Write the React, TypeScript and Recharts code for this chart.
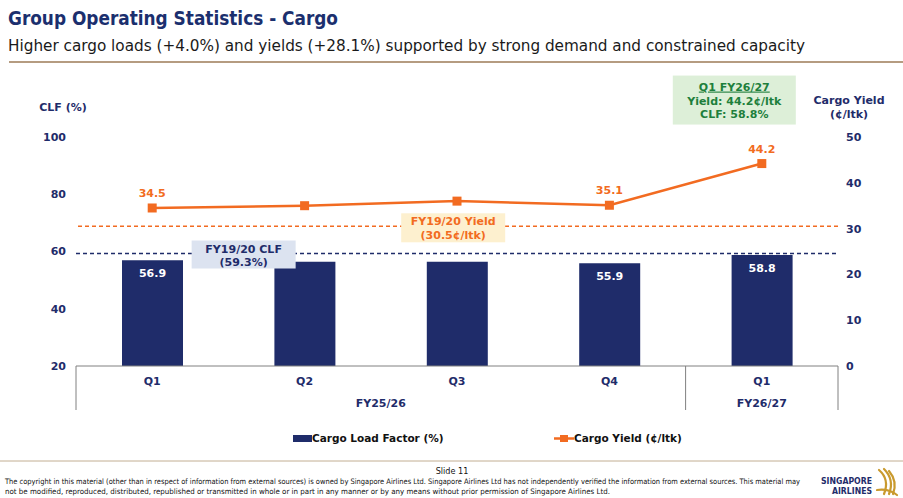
import React from 'react';
import {
  ComposedChart, Bar, Line, XAxis, YAxis, ReferenceLine, ReferenceDot, LabelList, Legend,
} from 'recharts';

// periods on the category axis (unique keys), with the two label rows
const periods = ['Q1 FY25/26', 'Q2 FY25/26', 'Q3 FY25/26', 'Q4 FY25/26', 'Q1 FY26/27'];
const quarters = ['Q1', 'Q2', 'Q3', 'Q4', 'Q1'];
const fiscalYears = ['FY25/26', 'FY25/26', 'FY25/26', 'FY25/26', 'FY26/27'];

// series
const cargoLoadFactor = [56.9, 56.4, 56.4, 55.9, 58.8];
const cargoYield = [34.5, 35.0, 36.0, 35.1, 44.2];
const clfLabels = ['56.9', '', '', '55.9', '58.8'];
const yieldLabels = ['34.5', '', '', '35.1', '44.2'];

// axes + benchmarks
const clfTicks = [20, 40, 60, 80, 100];
const yieldTicks = [0, 10, 20, 30, 40, 50];
const fy1920Clf = 59.3;
const fy1920Yield = 30.5;

const NAVY = '#1F2C6A';
const ORANGE = '#F26B21';
const GREEN = '#1E7F3C';
const FONT = '"DejaVu Sans", Verdana, sans-serif';

const W = 903;
const H = 498;
const PLOT_LEFT = 76;
const PLOT_RIGHT = 838;
const STEP = (PLOT_RIGHT - PLOT_LEFT) / periods.length;

const data = periods.map((p, i) => ({
  period: p,
  clf: cargoLoadFactor[i],
  yield: cargoYield[i],
}));

const CategoryTick = (props: any) => {
  const { x, y, index } = props;
  const fy = fiscalYears[index];
  const isGroupStart = index === 0 || fiscalYears[index - 1] !== fy;
  const isLast = index === periods.length - 1;
  let end = index;
  while (end + 1 < fiscalYears.length && fiscalYears[end + 1] === fy) end++;
  const groupCenter = x + ((end - index) * STEP) / 2;
  return (
    <g>
      <text x={x} y={y + 19} textAnchor="middle" fill={NAVY} fontSize={11} fontWeight="bold" fontFamily={FONT}>
        {quarters[index]}
      </text>
      {isGroupStart && (
        <>
          <line x1={x - STEP / 2} x2={x - STEP / 2} y1={y} y2={y + 44} stroke="#808080" />
          <text x={groupCenter} y={y + 41} textAnchor="middle" fill={NAVY} fontSize={11} fontWeight="bold" fontFamily={FONT}>
            {fy}
          </text>
        </>
      )}
      {isLast && <line x1={x + STEP / 2} x2={x + STEP / 2} y1={y} y2={y + 44} stroke="#808080" />}
    </g>
  );
};

const renderClfLabel = (props: any) => {
  const { x, y, width, index } = props;
  const txt = clfLabels[index];
  if (!txt) return null;
  return (
    <text x={x + width / 2} y={y + 17} textAnchor="middle" fill="#fff" fontSize={11} fontWeight="bold" fontFamily={FONT}>
      {txt}
    </text>
  );
};

const renderYieldLabel = (props: any) => {
  const { x, y, index } = props;
  const txt = yieldLabels[index];
  if (!txt) return null;
  return (
    <text x={x} y={y - 11} textAnchor="middle" fill={ORANGE} fontSize={11} fontWeight="bold" fontFamily={FONT}>
      {txt}
    </text>
  );
};

const SquareDot = (props: any) => {
  const { cx, cy } = props;
  if (cx == null || cy == null) return null;
  return <rect x={cx - 4.5} y={cy - 4.5} width={9} height={9} fill={ORANGE} />;
};

const renderClfBox = (props: any) => {
  const { viewBox } = props;
  const cx = viewBox.x + viewBox.width * 0.22;
  const top = viewBox.y - 13;
  return (
    <g>
      <rect x={cx - 52} y={top} width={104} height={28} fill="#DCE3F0" />
      <text x={cx} y={top + 12} textAnchor="middle" fill={NAVY} fontSize={11} fontWeight="bold" fontFamily={FONT}>FY19/20 CLF</text>
      <text x={cx} y={top + 25} textAnchor="middle" fill={NAVY} fontSize={11} fontWeight="bold" fontFamily={FONT}>(59.3%)</text>
    </g>
  );
};

const renderYieldBox = (props: any) => {
  const { viewBox } = props;
  const cx = viewBox.x + viewBox.width * 0.495;
  const top = viewBox.y - 13;
  return (
    <g>
      <rect x={cx - 52} y={top} width={104} height={29} fill="#FDF0CF" />
      <text x={cx} y={top + 12} textAnchor="middle" fill={ORANGE} fontSize={11} fontWeight="bold" fontFamily={FONT}>FY19/20 Yield</text>
      <text x={cx} y={top + 26} textAnchor="middle" fill={ORANGE} fontSize={11} fontWeight="bold" fontFamily={FONT}>(30.5¢/ltk)</text>
    </g>
  );
};

const renderQ1Box = (props: any) => {
  const { viewBox } = props;
  const cx = viewBox.x + viewBox.width / 2;
  const cy = viewBox.y + viewBox.height / 2;
  const left = cx - 89;
  const top = cy - 88;
  const mid = left + 61.5;
  return (
    <g>
      <rect x={left} y={top} width={123} height={49} fill="#DDEFD8" />
      <text x={mid} y={top + 15} textAnchor="middle" fill={GREEN} fontSize={11} fontWeight="bold" fontFamily={FONT} textDecoration="underline">Q1 FY26/27</text>
      <text x={mid} y={top + 29} textAnchor="middle" fill={GREEN} fontSize={11} fontWeight="bold" fontFamily={FONT}>Yield: 44.2¢/ltk</text>
      <text x={mid} y={top + 42} textAnchor="middle" fill={GREEN} fontSize={11} fontWeight="bold" fontFamily={FONT}>CLF: 58.8%</text>
    </g>
  );
};

const renderLegend = () => (
  <div style={{ position: 'relative', width: W, height: 20, fontFamily: FONT, fontSize: 10.5, fontWeight: 'bold', color: '#111' }}>
    <div style={{ position: 'absolute', left: 293, top: 4, display: 'flex', alignItems: 'center' }}>
      <span style={{ display: 'inline-block', width: 19, height: 7, background: NAVY }} />
      <span>Cargo Load Factor (%)</span>
    </div>
    <div style={{ position: 'absolute', left: 554, top: 4, display: 'flex', alignItems: 'center' }}>
      <svg width={20} height={9}>
        <line x1={0} x2={20} y1={4.5} y2={4.5} stroke={ORANGE} strokeWidth={2.5} />
        <rect x={6} y={1} width={8} height={7} fill={ORANGE} />
      </svg>
      <span>Cargo Yield (¢/ltk)</span>
    </div>
  </div>
);

const tickStyle = { fill: NAVY, fontSize: 11, fontWeight: 'bold', fontFamily: FONT };

const App = () => {
  return (
    <div style={{ position: 'absolute', left: 0, top: 0, width: W, height: H, background: '#fff', overflow: 'hidden' }}>
      <ComposedChart
        width={W}
        height={H}
        data={data}
        margin={{ top: 137, right: 0, left: 0, bottom: 82 }}
        style={{ position: 'absolute', left: 0, top: 0 }}
      >
        <XAxis
          dataKey="period"
          interval={0}
          tickLine={false}
          tickSize={0}
          tickMargin={0}
          height={50}
          axisLine={{ stroke: '#808080' }}
          tick={(p: any) => <CategoryTick {...p} />}
        />
        <YAxis
          yAxisId="left"
          width={76}
          domain={[20, 100]}
          ticks={clfTicks}
          axisLine={false}
          tickLine={false}
          tickSize={8}
          tickMargin={2}
          tick={tickStyle}
        />
        <YAxis
          yAxisId="right"
          orientation="right"
          width={65}
          domain={[0, 50]}
          ticks={yieldTicks}
          axisLine={false}
          tickLine={false}
          tickSize={6}
          tickMargin={2}
          tick={tickStyle}
        />
        <ReferenceLine yAxisId="right" y={fy1920Yield} stroke={ORANGE} strokeWidth={1.5} strokeDasharray="4 3" label={renderYieldBox} />
        <ReferenceLine yAxisId="left" y={fy1920Clf} stroke={NAVY} strokeWidth={1.5} strokeDasharray="4 3" label={renderClfBox} />
        <Bar yAxisId="left" dataKey="clf" fill={NAVY} barSize={61} isAnimationActive={false}>
          <LabelList dataKey="clf" content={renderClfLabel} />
        </Bar>
        <Line
          yAxisId="right"
          dataKey="yield"
          stroke={ORANGE}
          strokeWidth={2.5}
          dot={<SquareDot />}
          activeDot={false}
          isAnimationActive={false}
        >
          <LabelList dataKey="yield" content={renderYieldLabel} />
        </Line>
        <ReferenceDot yAxisId="right" x="Q1 FY26/27" y={44.2} r={0} fill="none" stroke="none" label={renderQ1Box} />
        <Legend
          layout="horizontal"
          verticalAlign="middle"
          align="center"
          content={renderLegend}
          wrapperStyle={{ top: 428, left: 0, width: W }}
        />
      </ComposedChart>

      <svg width={W} height={H} style={{ position: 'absolute', left: 0, top: 0, pointerEvents: 'none' }}>
        <text x={8} y={25} fontSize={20} fontWeight="bold" fill="#1B2F6E" fontFamily='"DejaVu Sans Condensed", "DejaVu Sans", sans-serif' textLength={330} lengthAdjust="spacingAndGlyphs">
          Group Operating Statistics - Cargo
        </text>
        <text x={8} y={51} fontSize={16} fill="#1a1a1a" fontFamily='"DejaVu Sans Condensed", "DejaVu Sans", sans-serif' textLength={797} lengthAdjust="spacingAndGlyphs">
          Higher cargo loads (+4.0%) and yields (+28.1%) supported by strong demand and constrained capacity
        </text>
        <line x1={9} x2={W} y1={62} y2={62} stroke="#9C7B57" strokeWidth={1.5} />

        <text x={63} y={111} textAnchor="middle" fontSize={11} fontWeight="bold" fill={NAVY} fontFamily={FONT}>CLF (%)</text>
        <text x={849} y={104} textAnchor="middle" fontSize={11} fontWeight="bold" fill={NAVY} fontFamily={FONT}>Cargo Yield</text>
        <text x={849} y={118} textAnchor="middle" fontSize={11} fontWeight="bold" fill={NAVY} fontFamily={FONT}>(¢/ltk)</text>

        <line x1={0} x2={W} y1={461} y2={461} stroke="#C2AE92" strokeWidth={1} />
        <text x={452} y={474} textAnchor="middle" fontSize={9} fill="#111" fontFamily='"DejaVu Sans Condensed", sans-serif'>Slide 11</text>
        <text x={5} y={484} fontSize={7.5} fill="#111" fontFamily='"DejaVu Sans Condensed", sans-serif' textLength={795} lengthAdjust="spacingAndGlyphs">
          The copyright in this material (other than in respect of information from external sources) is owned by Singapore Airlines Ltd. Singapore Airlines Ltd has not independently verified the information from external sources. This material may
        </text>
        <text x={5} y={494} fontSize={7.5} fill="#111" fontFamily='"DejaVu Sans Condensed", sans-serif' textLength={605} lengthAdjust="spacingAndGlyphs">
          not be modified, reproduced, distributed, republished or transmitted in whole or in part in any manner or by any means without prior permission of Singapore Airlines Ltd.
        </text>

        <text x={821} y={484} fontSize={8} fontWeight="bold" fill="#1F2C6A" fontFamily={FONT} textLength={51} lengthAdjust="spacingAndGlyphs">SINGAPORE</text>
        <text x={832} y={494} fontSize={8} fontWeight="bold" fill="#1F2C6A" fontFamily={FONT} textLength={40} lengthAdjust="spacingAndGlyphs">AIRLINES</text>
        <g fill="none" stroke="#C99A2E" strokeWidth={2.2} strokeLinecap="round">
          <path d="M879 470 C886 476 888 484 884 494" />
          <path d="M884 469 C891 476 893 484 889 494" />
          <path d="M889 471 C895 478 896 486 893 494" />
          <path d="M877 490 C884 489 892 491 897 495" />
        </g>
      </svg>
    </div>
  );
};

export default App;
